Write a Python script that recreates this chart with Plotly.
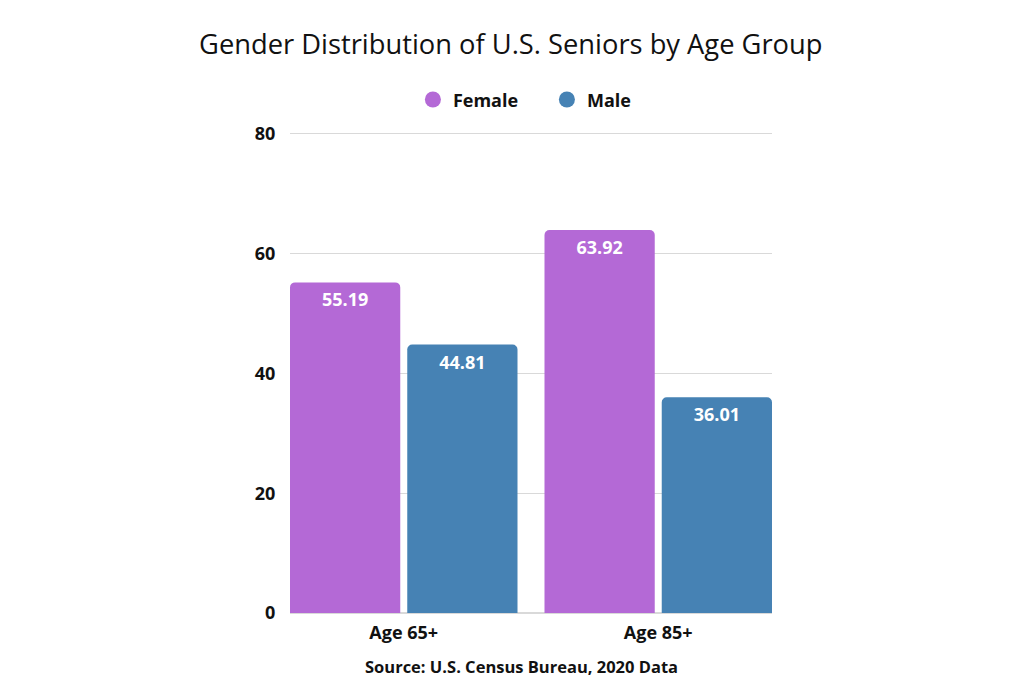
import plotly.graph_objects as go

categories = ["Age 65+", "Age 85+"]
female = [55.19, 63.92]
male = [44.81, 36.01]
y_ticks = [0, 20, 40, 60, 80]

PURPLE = "#b469d6"
BLUE = "#4682b4"
FONT = "Open Sans"

fig = go.Figure()
for name, vals, col in [("Female", female, PURPLE), ("Male", male, BLUE)]:
    fig.add_trace(go.Bar(
        x=categories, y=vals, name=name, marker_color=col,
        marker_line_width=0,
        text=[f"{v:.2f}" for v in vals], textposition="inside",
        insidetextanchor="end",
        textfont=dict(family=FONT, size=18, color="white", weight="bold"),
        showlegend=False,
    ))
    fig.add_trace(go.Scatter(
        x=[None], y=[None], mode="markers", name=name,
        marker=dict(symbol="circle", size=20, color=col),
    ))

b = 0.0786
g = 0.0597
edge = 0.447
fig.update_layout(
    width=1024, height=683,
    margin=dict(l=282, r=260, t=124, b=78),
    paper_bgcolor="white", plot_bgcolor="white",
    barmode="group", bargap=b, bargroupgap=g, barcornerradius=5,
    title=dict(text="Gender Distribution of U.S. Seniors by Age Group",
               x=0.491, xanchor="center", y=0.946, yanchor="middle",
               font=dict(family=FONT, size=27.3, color="#111111")),
    legend=dict(orientation="h", x=0.533, xanchor="center", y=1.067, yanchor="middle",
                font=dict(family=FONT, size=18, color="#111111", weight="bold"),
                entrywidth=89, entrywidthmode="pixels", traceorder="normal"),
    font=dict(family=FONT, color="#111111"),
    xaxis=dict(range=[-edge, 1 + edge], showgrid=False,
               tickfont=dict(family=FONT, size=18, color="#111111", weight="bold"),
               ticks="outside", ticklen=3, tickcolor="rgba(0,0,0,0)", showline=False),
    yaxis=dict(range=[0, 80.3], tickvals=y_ticks, showgrid=True, gridcolor="#d9d9d9",
               gridwidth=1, zeroline=True, zerolinecolor="#d9d9d9",
               tickfont=dict(family=FONT, size=18, color="#111111", weight="bold"),
               ticks="outside", ticklen=10, tickcolor="rgba(0,0,0,0)"),
    annotations=[dict(text="Source: U.S. Census Bureau, 2020 Data", x=0.481, xref="paper",
                      y=-(53 / 481), yref="paper", yanchor="middle", showarrow=False,
                      font=dict(family=FONT, size=16.5, color="#111111", weight="bold"))],
)
fig.write_html("out.html")
